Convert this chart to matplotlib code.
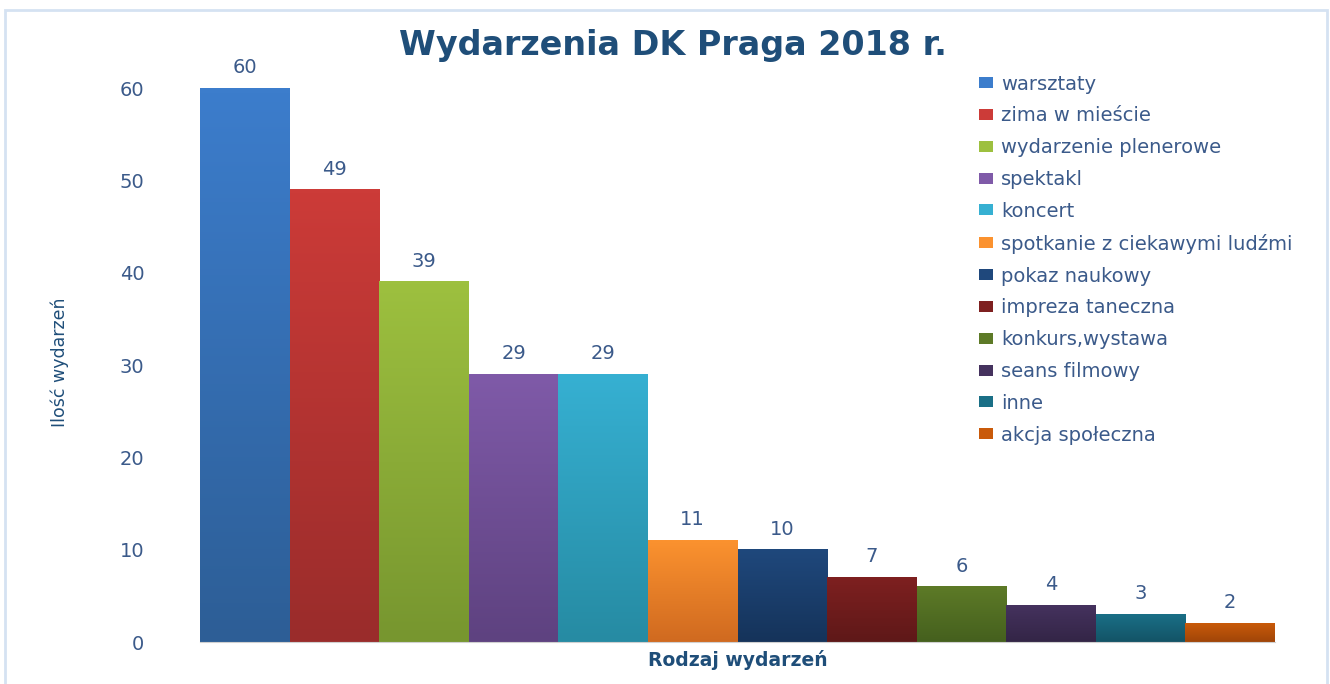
import numpy as np
import matplotlib.pyplot as plt
from matplotlib.colors import LinearSegmentedColormap
from matplotlib.patches import Rectangle, Patch

categories = ['warsztaty', 'zima w mieście', 'wydarzenie plenerowe', 'spektakl',
              'koncert', 'spotkanie z ciekawymi ludźmi', 'pokaz naukowy',
              'impreza taneczna', 'konkurs,wystawa', 'seans filmowy', 'inne',
              'akcja społeczna']
values = [60, 49, 39, 29, 29, 11, 10, 7, 6, 4, 3, 2]
top_colors = ['#3c7dcc', '#cc3b38', '#9dc03f', '#7f5aa8', '#36b0d2', '#fb922f',
              '#1f487c', '#7e2020', '#5d7a27', '#45325e', '#1a6f86', '#c95a0a']
bottom_colors = ['#2d5e96', '#9a2c2b', '#77962f', '#5e4280', '#268ba3', '#d06a20',
                 '#15335a', '#5e1818', '#45601e', '#332546', '#135366', '#a04508']
yticks = [0, 10, 20, 30, 40, 50, 60]

W, H = 1330, 684
text_color = '#3b5a8a'
dark_blue = '#1f4e79'

fig = plt.figure(figsize=(W / 100, H / 100), dpi=100)
fig.patch.set_facecolor('white')

# light blue frame around the chart
fig.patches.append(Rectangle((5 / W, -0.01), (W - 8) / W, (H - 10) / H + 0.01,
                             transform=fig.transFigure, fill=False,
                             edgecolor='#d5e2f2', linewidth=2))

ymax = 65
ax = fig.add_axes([200 / W, 42 / H, 1075 / W, 600 / H])
x = np.arange(len(values))
bars = ax.bar(x, values, width=1.0, color='none', edgecolor='none')

# vertical gradient fill: lighter top, darker bottom
grad = np.linspace(0, 1, 100).reshape(-1, 1)
for b, c_top, c_bot in zip(bars, top_colors, bottom_colors):
    cmap = LinearSegmentedColormap.from_list('g', [c_bot, c_top])
    x0, w, h = b.get_x(), b.get_width(), b.get_height()
    ax.imshow(grad, extent=[x0, x0 + w, 0, h], origin='lower', aspect='auto',
              cmap=cmap, zorder=2, interpolation='bilinear')
    ax.text(x0 + w / 2, h + 1.2, str(int(h)), ha='center', va='bottom',
            fontsize=14, color=text_color)

ax.set_xlim(-0.5, len(values) - 0.5)
ax.set_ylim(0, ymax)
for s in ['top', 'right', 'left']:
    ax.spines[s].set_visible(False)
ax.spines['bottom'].set_color('#d0d0d0')
ax.set_xticks([])
ax.set_yticks(yticks)
ax.tick_params(axis='y', length=0, pad=40, labelsize=14, labelcolor=text_color)

ax.set_xlabel('Rodzaj wydarzeń', fontsize=13.5, fontweight='bold', color=dark_blue,
              labelpad=6)
fig.text(60 / W, 1 - 362 / H, 'Ilość wydarzeń', rotation=90, ha='center', va='center',
         fontsize=12.5, color=dark_blue,
         family=['Liberation Sans Narrow', 'DejaVu Sans'])

fig.text(673 / W, 1 - 45 / H, 'Wydarzenia DK Praga 2018 r.', ha='center', va='center',
         fontsize=24, fontweight='bold', color=dark_blue)

handles = [Patch(facecolor=c, edgecolor='none') for c in top_colors]
leg = fig.legend(handles, categories, loc='upper left',
                 bbox_to_anchor=(961 / W, 1 - 57 / H), frameon=False,
                 fontsize=14, labelspacing=0.66, handlelength=0.75,
                 handleheight=0.5, handletextpad=0.4)
for t in leg.get_texts():
    t.set_color(text_color)

fig.savefig('out.png', dpi=100)
